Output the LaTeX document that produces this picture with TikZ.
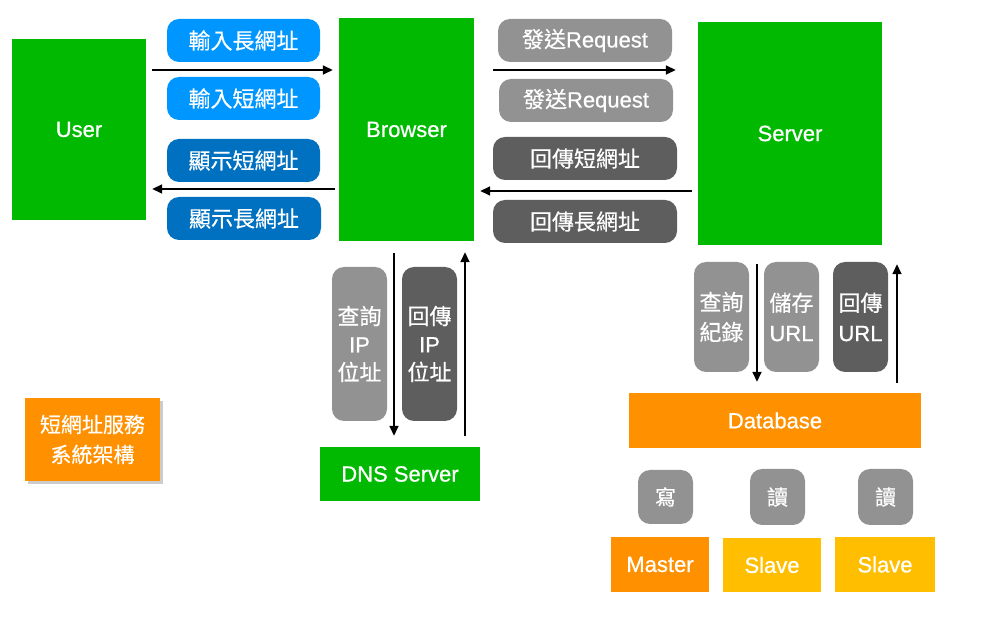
\documentclass[tikz,border=0pt]{standalone}
\usepackage{fontspec}
\setmainfont{Liberation Sans}[UprightFeatures={FakeBold=0.7}]
\newfontfamily\cjkfont{Noto Sans CJK TC}[UprightFeatures={FakeBold=0.5}]
\usetikzlibrary{arrows.meta,shadows}
\definecolor{gruen}{RGB}{0,185,0}
\definecolor{orangeton}{RGB}{255,145,0}
\definecolor{gelb}{RGB}{255,190,0}
\definecolor{hellblau}{RGB}{0,150,255}
\definecolor{blau}{RGB}{0,112,192}
\definecolor{grau}{RGB}{146,146,146}
\definecolor{dunkelgrau}{RGB}{94,94,94}
\tikzset{
  knoten/.style={fill=gruen, text=white, inner sep=0pt, align=center,
    font=\fontsize{22}{28}\selectfont},
  marke/.style={knoten, rounded corners=12pt},
  pfeil/.style={line width=1.6pt, -{Triangle[length=10pt,width=9pt]}}
}
\begin{document}
\begin{tikzpicture}[x=1pt,y=-1pt]
  \useasboundingbox (0,0) rectangle (989,617);
  % Systeme
  \node[knoten, minimum width=134pt, minimum height=181pt] (user) at (79,129.5) {User};
  \node[knoten, minimum width=135pt, minimum height=223pt] (browser) at (406.5,129.5) {Browser};
  \node[knoten, minimum width=184pt, minimum height=223pt] (server) at (790,133.5) {Server};
  \node[knoten, minimum width=160pt, minimum height=54pt] (dns) at (400,474) {DNS Server};
  \node[knoten, fill=orangeton, minimum width=292pt, minimum height=55pt] (db) at (775,420.5) {Database};
  \node[knoten, fill=orangeton, minimum width=98pt, minimum height=55pt] (master) at (660,564.5) {Master};
  \node[knoten, fill=gelb, minimum width=98pt, minimum height=54pt] (slaveA) at (772,565) {Slave};
  \node[knoten, fill=gelb, minimum width=100pt, minimum height=55pt] (slaveB) at (885,564.5) {Slave};
  % Titel
  \node[knoten, fill=orangeton, minimum width=135pt, minimum height=83pt,
    font=\cjkfont\fontsize{21}{30}\selectfont,
    drop shadow={shadow xshift=3pt, shadow yshift=-3pt, fill=black!40}]
    (titel) at (92.5,439.5) {短網址服務\\系統架構};
  % User <-> Browser
  \node[marke, fill=hellblau, minimum width=153pt, minimum height=43pt] (eingabeL) at (243.5,40.5) {\cjkfont 輸入長網址};
  \node[marke, fill=hellblau, minimum width=153pt, minimum height=43pt] (eingabeK) at (243.5,98.5) {\cjkfont 輸入短網址};
  \node[marke, fill=blau, minimum width=153pt, minimum height=43pt] (anzeigeK) at (243.5,160.5) {\cjkfont 顯示短網址};
  \node[marke, fill=blau, minimum width=154pt, minimum height=43pt] (anzeigeL) at (244,218.5) {\cjkfont 顯示長網址};
  \draw[pfeil, shorten <=6pt, shorten >=6pt] ([yshift=59.5pt]user.east) -- ([yshift=59.5pt]browser.west);
  \draw[pfeil, shorten <=4pt, shorten >=6pt] ([yshift=-59.5pt]browser.west) -- ([yshift=-59.5pt]user.east);
  % Browser <-> Server
  \node[marke, fill=grau, minimum width=174pt, minimum height=43pt] (anfrageA) at (585,40.5) {{\cjkfont 發送}Request};
  \node[marke, fill=grau, minimum width=174pt, minimum height=43pt] (anfrageB) at (586,100.5) {{\cjkfont 發送}Request};
  \node[marke, fill=dunkelgrau, minimum width=184pt, minimum height=43pt] (antwortK) at (585,158.5) {\cjkfont 回傳短網址};
  \node[marke, fill=dunkelgrau, minimum width=184pt, minimum height=43pt] (antwortL) at (585,221.5) {\cjkfont 回傳長網址};
  \draw[pfeil, shorten <=19pt, shorten >=22pt] ([yshift=59.5pt]browser.east) -- ([yshift=59.5pt]browser.east -| server.west);
  \draw[pfeil, shorten <=6pt, shorten >=6pt] ([yshift=-57.5pt]server.west) -- ([yshift=-57.5pt]server.west -| browser.east);
  % Browser <-> DNS
  \node[marke, fill=grau, minimum width=55pt, minimum height=154pt] (ipfrage) at (359.5,344) {{\cjkfont 查詢}\\IP\\{\cjkfont 位址}};
  \node[marke, fill=dunkelgrau, minimum width=55pt, minimum height=154pt] (ipantwort) at (429.5,344) {{\cjkfont 回傳}\\IP\\{\cjkfont 位址}};
  \draw[pfeil, shorten <=12pt, shorten >=11pt] ([xshift=-12.5pt]browser.south) -- ([xshift=-12.5pt]browser.south |- dns.north);
  \draw[pfeil, shorten <=11pt, shorten >=11pt] ([xshift=58.5pt]browser.south |- dns.north) -- ([xshift=58.5pt]browser.south);
  % Server <-> Database
  \node[marke, fill=grau, minimum width=55pt, minimum height=110pt, font=\cjkfont\fontsize{22}{30}\selectfont] (abfrage) at (721.5,317) {查詢\\紀錄};
  \node[marke, fill=grau, minimum width=55pt, minimum height=110pt, font=\fontsize{22}{30}\selectfont] (speichern) at (791.5,317) {{\cjkfont 儲存}\\URL};
  \node[marke, fill=dunkelgrau, minimum width=55pt, minimum height=110pt, font=\fontsize{22}{30}\selectfont] (rueckgabe) at (860.5,317) {{\cjkfont 回傳}\\URL};
  \draw[pfeil, shorten <=19pt, shorten >=11pt] ([xshift=-33pt]server.south) -- ([xshift=-33pt]server.south |- db.north);
  \draw[pfeil, shorten <=10pt, shorten >=19pt] ([xshift=122pt]db.north) -- ([xshift=122pt]db.north |- server.south);
  % Master / Slave
  \node[marke, fill=grau, minimum width=55pt, minimum height=54pt, font=\cjkfont\fontsize{21}{28}\selectfont] (schreiben) at (665.5,497) {寫};
  \node[marke, fill=grau, minimum width=55pt, minimum height=56pt, font=\cjkfont\fontsize{21}{28}\selectfont] (lesenA) at (777.5,497) {讀};
  \node[marke, fill=grau, minimum width=55pt, minimum height=56pt, font=\cjkfont\fontsize{21}{28}\selectfont] (lesenB) at (885.5,497) {讀};
\end{tikzpicture}
\end{document}
